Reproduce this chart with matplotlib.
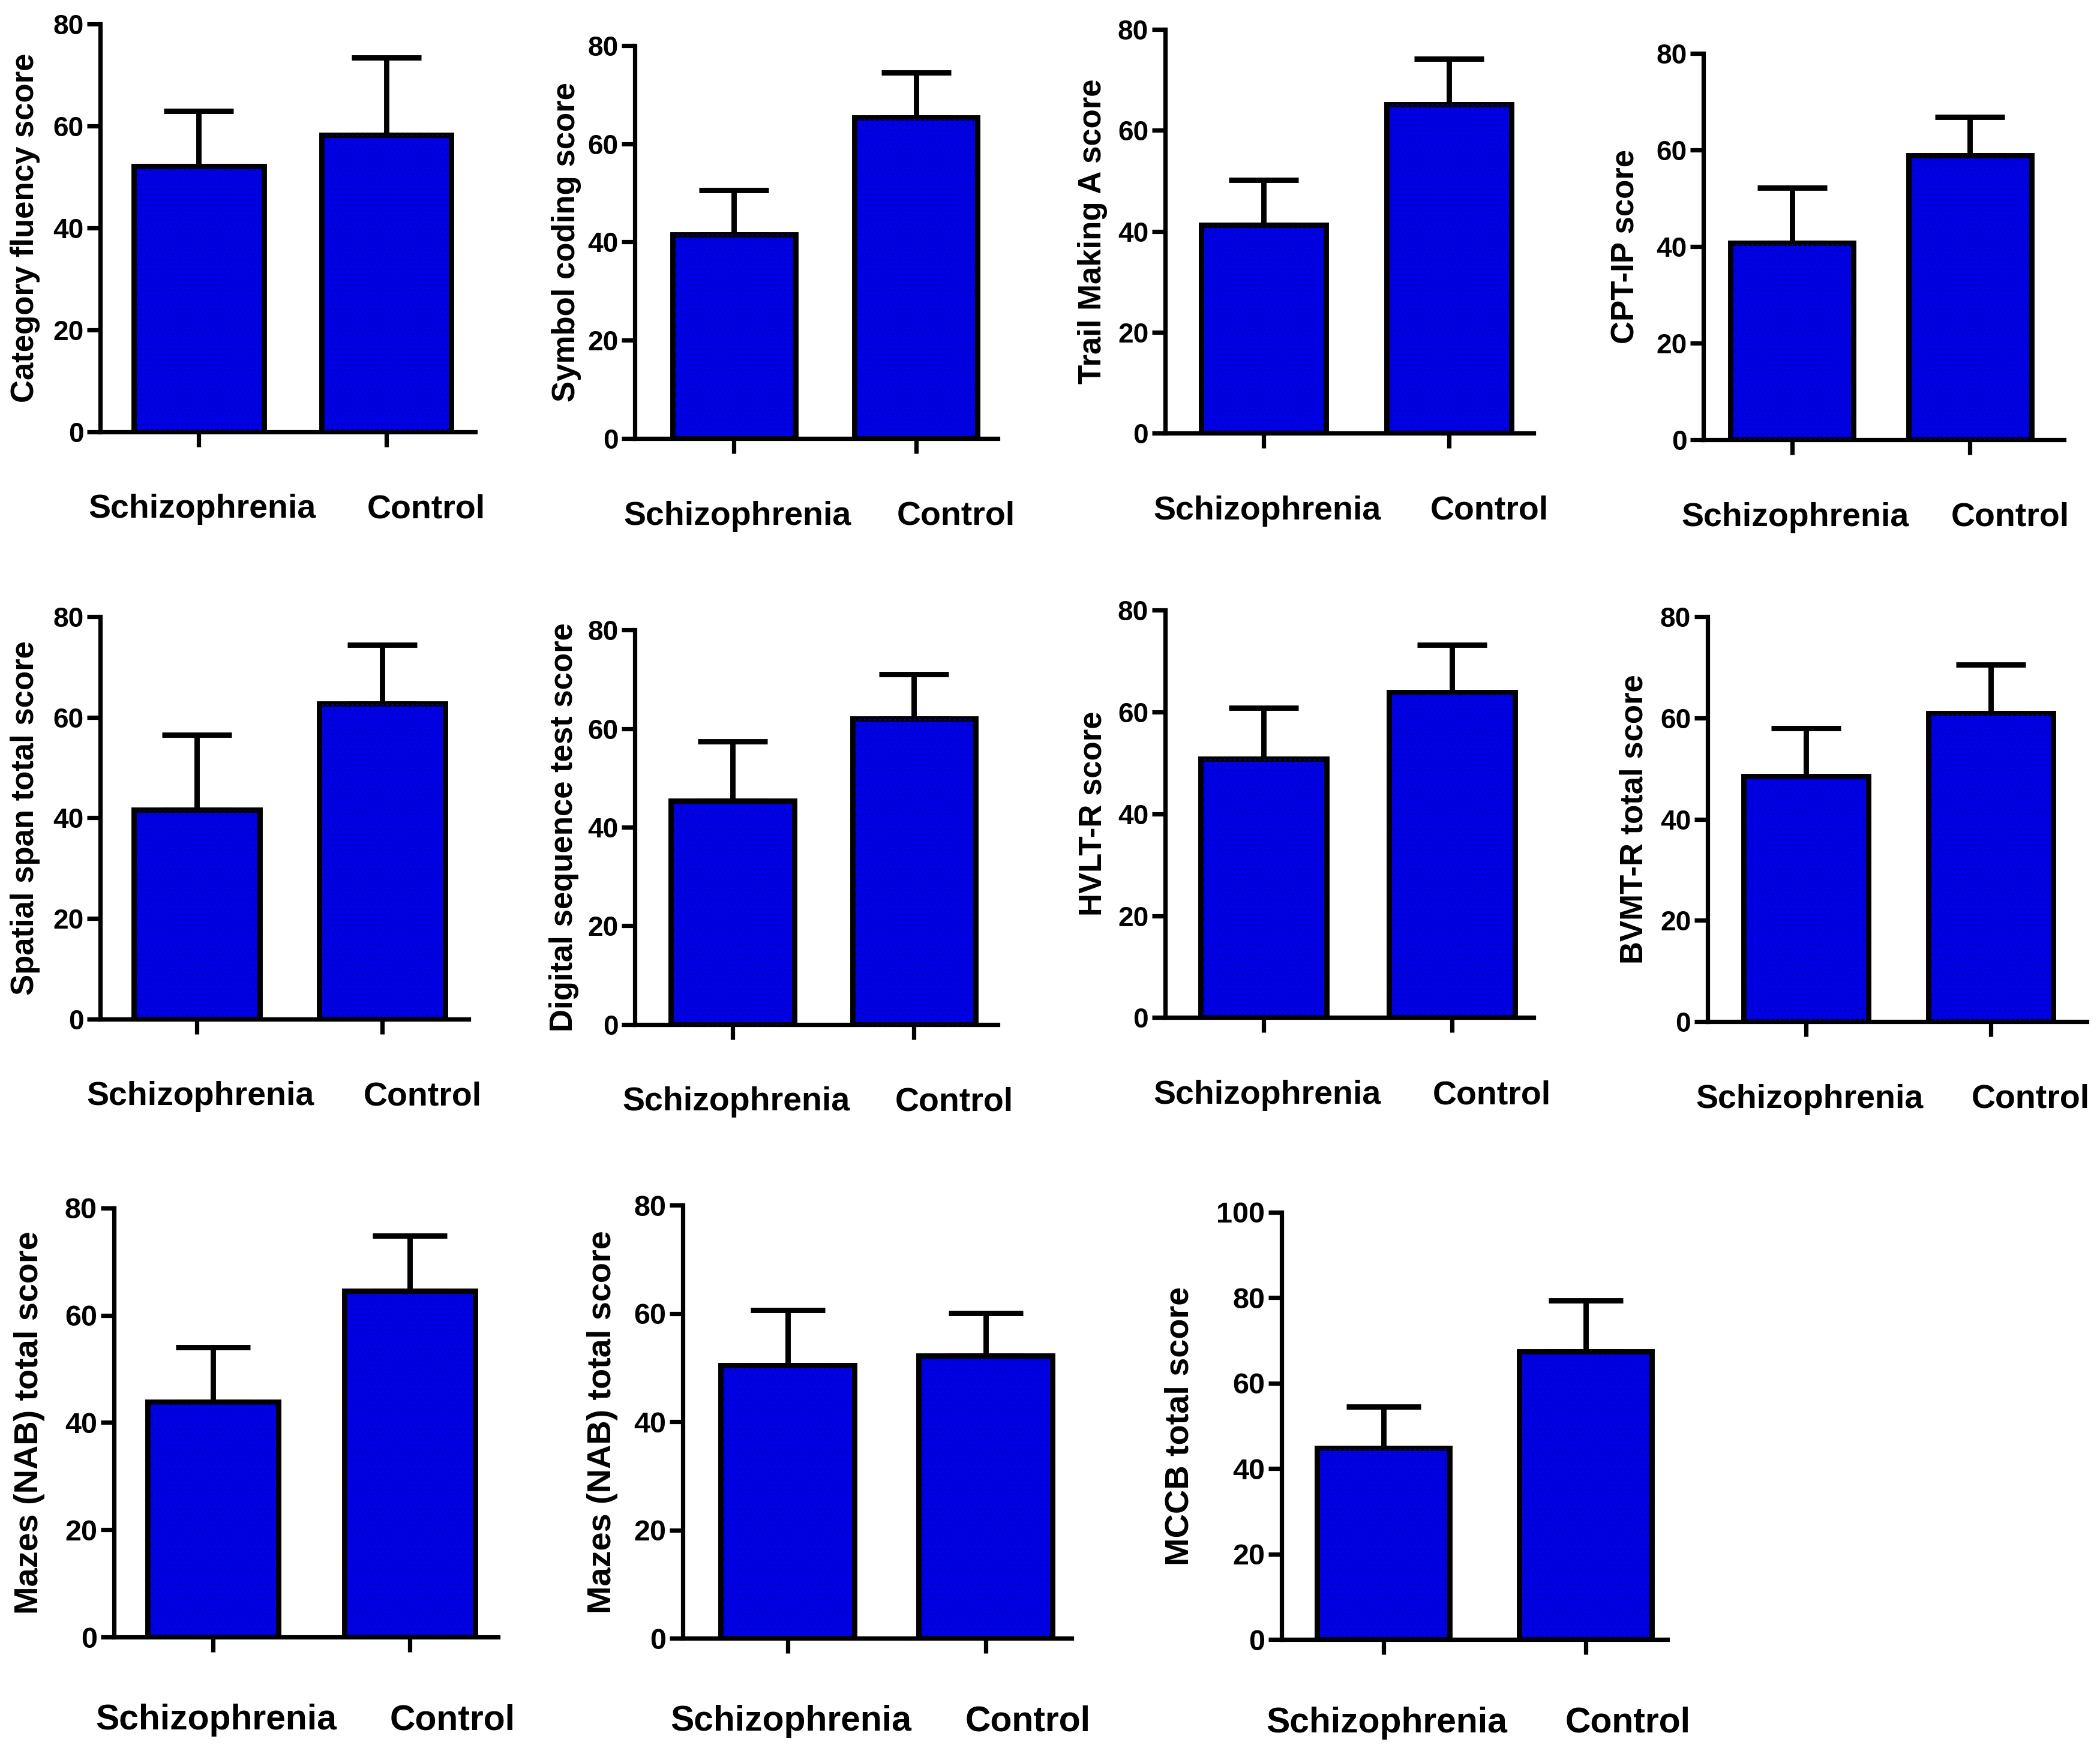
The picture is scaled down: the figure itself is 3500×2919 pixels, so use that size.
import matplotlib
matplotlib.use("Agg")
import matplotlib.pyplot as plt

plt.rcParams['font.family'] = ['Liberation Sans', 'DejaVu Sans']
plt.rcParams['font.weight'] = 'bold'
plt.rcParams['hatch.linewidth'] = 0.6

# ---------------- data ----------------
groups = ["Schizophrenia", "Control"]
ylabels = ["Category fluency score", "Symbol coding score", "Trail Making A score",
           "CPT-IP score", "Spatial span total score", "Digital sequence test score",
           "HVLT-R score", "BVMT-R total score", "Mazes (NAB) total score",
           "Mazes (NAB) total score", "MCCB total score"]
means = [[52.1, 58.2], [41.5, 65.3], [41.2, 65.1], [40.8, 58.9],
         [41.6, 62.7], [45.4, 62.0], [50.8, 63.9], [48.5, 60.9],
         [43.8, 64.5], [50.5, 52.2], [44.8, 67.4]]
errs = [[10.8, 15.2], [9.0, 9.2], [9.0, 9.1], [11.4, 8.0],
        [14.9, 11.7], [12.0, 9.0], [10.0, 9.3], [9.5, 9.6],
        [10.2, 10.3], [10.1, 7.9], [9.7, 11.9]]
ymaxes = [80, 80, 80, 80, 80, 80, 80, 80, 80, 80, 100]
yticks_step = [20] * 11

# ---------------- layout (reference px on a 1568x1306 canvas) ----------------
W, H = 1568.0, 1306.0
# left, right, top_px, zero_px, center1, center2, bar width, ylabel center x, font scale
layout = [
    (75, 355, 18, 322, 148.5, 288.5, 97, 19, 1.0),
    (474, 745, 34, 327, 548, 684, 92, 423, 1.0),
    (870, 1145, 22, 323, 943.5, 1082, 93, 816, 1.0),
    (1272, 1541, 40, 328, 1338, 1471, 92, 1214, 1.0),
    (75, 350, 460, 760, 147, 285.5, 94, 19, 1.0),
    (474, 745, 470, 764, 547, 682.5, 92, 421, 1.0),
    (870, 1145, 455, 759, 943.5, 1084, 94, 816, 1.0),
    (1275, 1558, 460, 762, 1348.5, 1486.5, 93, 1220, 1.0),
    (85, 372, 901, 1221, 159, 306, 98, 22, 1.06),
    (510, 800, 899, 1222, 588, 736, 100, 450, 1.06),
    (957, 1245, 904, 1223, 1033, 1184, 99, 881, 1.06),
]

fig = plt.figure(figsize=(17.5, 14.595), dpi=200)
fig.patch.set_facecolor('white')

bar_color = '#0000E6'
px_to_pt = (2919 / H) / 200 * 72  # reference px -> points

for i, (L, R, T, Z, c1, c2, bw, ylx, fs) in enumerate(layout):
    ax = fig.add_axes([L / W, 1 - Z / H, (R - L) / W, (Z - T) / H])
    unit = c2 - c1
    ax.set_xlim((L - c1) / unit, (R - c1) / unit)
    ax.set_ylim(0, ymaxes[i])
    x = [0, 1]
    ax.bar(x, means[i], width=bw / unit, color=bar_color, edgecolor='black',
           linewidth=3.2, zorder=3)
    ax.bar(x, means[i], width=bw / unit * 0.96, color='none', edgecolor='#0000B4',
           hatch='....', linewidth=0, zorder=3.5)
    ax.errorbar(x, [m for m in means[i]], yerr=[[0, 0], errs[i]], fmt='none',
                ecolor='black', elinewidth=3.2, capsize=21 * fs, capthick=3.2,
                zorder=2)
    for s in ['top', 'right']:
        ax.spines[s].set_visible(False)
    for s in ['left', 'bottom']:
        ax.spines[s].set_linewidth(2.6)
    ax.set_yticks(list(range(0, ymaxes[i] + 1, yticks_step[i])))
    ax.tick_params(axis='y', direction='out', length=8, width=2.6,
                   labelsize=16.5 * fs, pad=2)
    ax.set_xticks(x)
    ax.set_xticklabels(['', ''])
    ax.tick_params(axis='x', direction='out', length=9, width=2.6)
    for lab in ax.get_yticklabels():
        lab.set_fontweight('bold')
    ax.set_ylabel(ylabels[i], fontsize=19 * fs, fontweight='bold')
    ax.yaxis.label.set_verticalalignment('center')
    ax.yaxis.set_label_coords((ylx - L) / (R - L), 0.5)
    # group labels below the axis
    dy = -(58 if fs == 1.0 else 62) * px_to_pt
    for xi, g, dx in zip(x, groups, [2, 24 * fs]):
        ax.annotate(g, xy=(xi, 0), xycoords=('data', 'axes fraction'),
                    xytext=(dx, dy), textcoords='offset points',
                    ha='center', va='center', fontsize=20 * fs,
                    fontweight='bold', annotation_clip=False)

fig.savefig('out.png', dpi=200, facecolor='white')
